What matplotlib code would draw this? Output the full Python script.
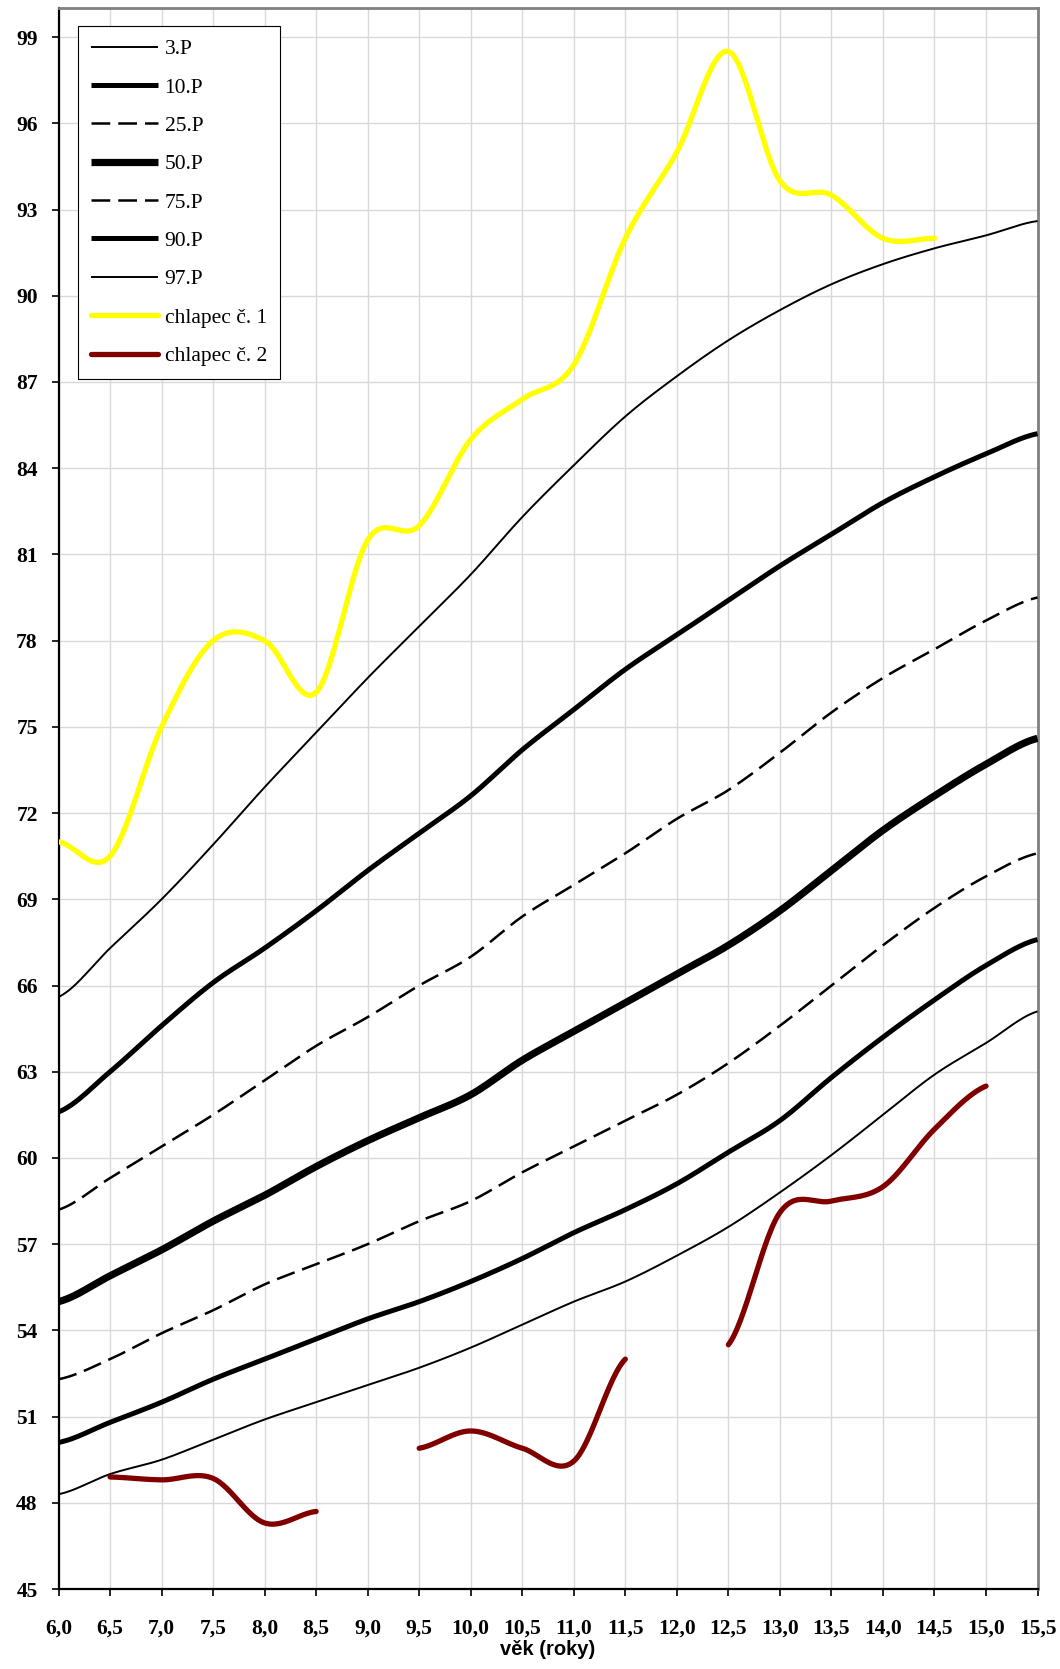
import numpy as np
import matplotlib
matplotlib.use("Agg")
import matplotlib.pyplot as plt

# ---------------- data ----------------
age = [6.0, 6.5, 7.0, 7.5, 8.0, 8.5, 9.0, 9.5, 10.0, 10.5,
       11.0, 11.5, 12.0, 12.5, 13.0, 13.5, 14.0, 14.5, 15.0, 15.5]
p3 = [65.6, 67.3, 69.0, 70.9, 72.9, 74.8, 76.7, 78.5, 80.3, 82.3,
      84.1, 85.8, 87.2, 88.45, 89.5, 90.4, 91.1, 91.65, 92.1, 92.6]
p10 = [61.6, 63.0, 64.6, 66.1, 67.3, 68.6, 70.0, 71.3, 72.6, 74.2,
       75.6, 77.0, 78.2, 79.4, 80.6, 81.7, 82.8, 83.7, 84.5, 85.2]
p25 = [58.2, 59.3, 60.4, 61.5, 62.7, 63.9, 64.9, 66.0, 67.0, 68.4,
       69.5, 70.6, 71.8, 72.8, 74.1, 75.5, 76.7, 77.7, 78.7, 79.5]
p50 = [55.0, 55.9, 56.8, 57.8, 58.7, 59.7, 60.6, 61.4, 62.2, 63.4,
       64.4, 65.4, 66.4, 67.4, 68.6, 70.0, 71.4, 72.6, 73.7, 74.6]
p75 = [52.3, 53.0, 53.9, 54.7, 55.6, 56.3, 57.0, 57.8, 58.5, 59.5,
       60.4, 61.3, 62.2, 63.3, 64.6, 66.0, 67.4, 68.7, 69.8, 70.6]
p90 = [50.1, 50.8, 51.5, 52.3, 53.0, 53.7, 54.4, 55.0, 55.7, 56.5,
       57.4, 58.2, 59.1, 60.2, 61.3, 62.8, 64.2, 65.5, 66.7, 67.6]
p97 = [48.3, 49.0, 49.5, 50.2, 50.9, 51.5, 52.1, 52.7, 53.4, 54.2,
       55.0, 55.7, 56.6, 57.6, 58.8, 60.1, 61.5, 62.9, 64.0, 65.1]

boy1_age = [6.0, 6.5, 7.0, 7.5, 8.0, 8.5, 9.0, 9.5, 10.0, 10.5,
            11.0, 11.5, 12.0, 12.5, 13.0, 13.5, 14.0, 14.5]
boy1 = [71.0, 70.5, 75.0, 78.0, 78.0, 76.2, 81.5, 82.0, 85.0, 86.4,
        87.6, 92.0, 95.0, 98.5, 94.0, 93.5, 92.0, 92.0]

boy2_age = [6.5, 7.0, 7.5, 8.0, 8.5, 9.0, 9.5, 10.0, 10.5, 11.0, 11.5,
            12.0, 12.5, 13.0, 13.5, 14.0, 14.5, 15.0]
boy2 = [48.9, 48.8, 48.85, 47.3, 47.7, np.nan, 49.9, 50.5, 49.9, 49.45, 53.0,
        np.nan, 53.5, 58.1, 58.5, 59.0, 61.0, 62.5]

labels = ["3.P", "10.P", "25.P", "50.P", "75.P", "90.P", "97.P",
          "chlapec č. 1", "chlapec č. 2"]
xticks = [6.0 + 0.5 * i for i in range(20)]
yticks = list(range(45, 100, 3))


# ---------------- smoothed line (like spreadsheet "smoothed line") --------
def smooth(xs, ys, n=30):
    xs = np.asarray(xs, float)
    ys = np.asarray(ys, float)
    out_x, out_y = [], []
    k = len(xs)
    if k < 2:
        return xs, ys
    m = np.zeros(k)
    for i in range(k):
        a = ys[i - 1] if i > 0 else ys[i]
        b = ys[i + 1] if i < k - 1 else ys[i]
        m[i] = (b - a) / 2.0
    for i in range(k - 1):
        t = np.linspace(0, 1, n, endpoint=(i == k - 2))
        h00 = 2 * t**3 - 3 * t**2 + 1
        h10 = t**3 - 2 * t**2 + t
        h01 = -2 * t**3 + 3 * t**2
        h11 = t**3 - t**2
        out_y.append(h00 * ys[i] + h10 * m[i] + h01 * ys[i + 1] + h11 * m[i + 1])
        out_x.append(xs[i] + t * (xs[i + 1] - xs[i]))
    return np.concatenate(out_x), np.concatenate(out_y)


def segments(xs, ys):
    segs, cx, cy = [], [], []
    for x, y in zip(xs, ys):
        if np.isnan(y):
            if cx:
                segs.append((cx, cy))
            cx, cy = [], []
        else:
            cx.append(x)
            cy.append(y)
    if cx:
        segs.append((cx, cy))
    return segs


# ---------------- figure ----------------
fig = plt.figure(figsize=(10.6, 16.69), dpi=100)
ax = fig.add_axes([0.0552, 0.0479, 0.9236, 0.9471])

thin = 1.4
thick = 3.6
thickest = 5.2
dash_w = 1.8
dash = (0, (7.5, 3.2))

styles = [
    dict(color="black", lw=thin, ls="-"),
    dict(color="black", lw=thick, ls="-"),
    dict(color="black", lw=dash_w, ls=dash),
    dict(color="black", lw=thickest, ls="-"),
    dict(color="black", lw=dash_w, ls=dash),
    dict(color="black", lw=thick, ls="-"),
    dict(color="black", lw=thin, ls="-"),
]
series = [p3, p10, p25, p50, p75, p90, p97]

handles = []
for s, st, lab in zip(series, styles, labels[:7]):
    sx, sy = smooth(age, s)
    h, = ax.plot(sx, sy, label=lab, solid_capstyle="butt", zorder=3, **st)
    handles.append(h)

bx, by = smooth(boy1_age, boy1)
h, = ax.plot(bx, by, color="#ffff00", lw=3.8, label=labels[7], zorder=4,
             solid_capstyle="round")
handles.append(h)

first = True
for sx_, sy_ in segments(boy2_age, boy2):
    sx, sy = smooth(sx_, sy_)
    h, = ax.plot(sx, sy, color="#800000", lw=3.8, zorder=4,
                 solid_capstyle="round",
                 label=labels[8] if first else "_nolegend_")
    if first:
        handles.append(h)
    first = False

ax.set_xlim(6.0, 15.5)
ax.set_ylim(45, 100)
ax.set_xticks(xticks)
ax.set_xticklabels([f"{v:.1f}".replace(".", ",") for v in xticks])
ax.set_yticks(yticks)
ax.set_yticklabels([str(v) for v in yticks])

ax.grid(True, color="#d9d9d9", lw=1.0, zorder=0)
ax.set_axisbelow(True)

for side in ["left", "bottom"]:
    ax.spines[side].set_color("black")
    ax.spines[side].set_linewidth(1.6)
for side in ["top", "right"]:
    ax.spines[side].set_color("#808080")
    ax.spines[side].set_linewidth(2.0)

serif = ["Liberation Serif", "DejaVu Serif"]
ax.tick_params(axis="both", direction="out", length=5, width=1.2, color="black")
ax.tick_params(axis="x", pad=16)
ax.tick_params(axis="y", pad=10)
for lab in ax.get_xticklabels() + ax.get_yticklabels():
    lab.set_fontfamily(serif)
    lab.set_fontweight("bold")
    lab.set_fontsize(15.5)

ax.set_xlabel("věk (roky)", fontsize=14.5, fontweight="bold",
              family=["Liberation Sans", "DejaVu Sans"], labelpad=1)

leg = ax.legend(handles=handles, loc="upper left",
                bbox_to_anchor=(0.02, 0.989), borderaxespad=0,
                prop=dict(family=serif, size=15.5),
                handlelength=3.1, handletextpad=0.3, labelspacing=0.85,
                borderpad=0.62, frameon=True, fancybox=False, framealpha=1,
                edgecolor="black")
leg.get_frame().set_linewidth(0.8)

fig.savefig("out.png", dpi=100, facecolor="white")
